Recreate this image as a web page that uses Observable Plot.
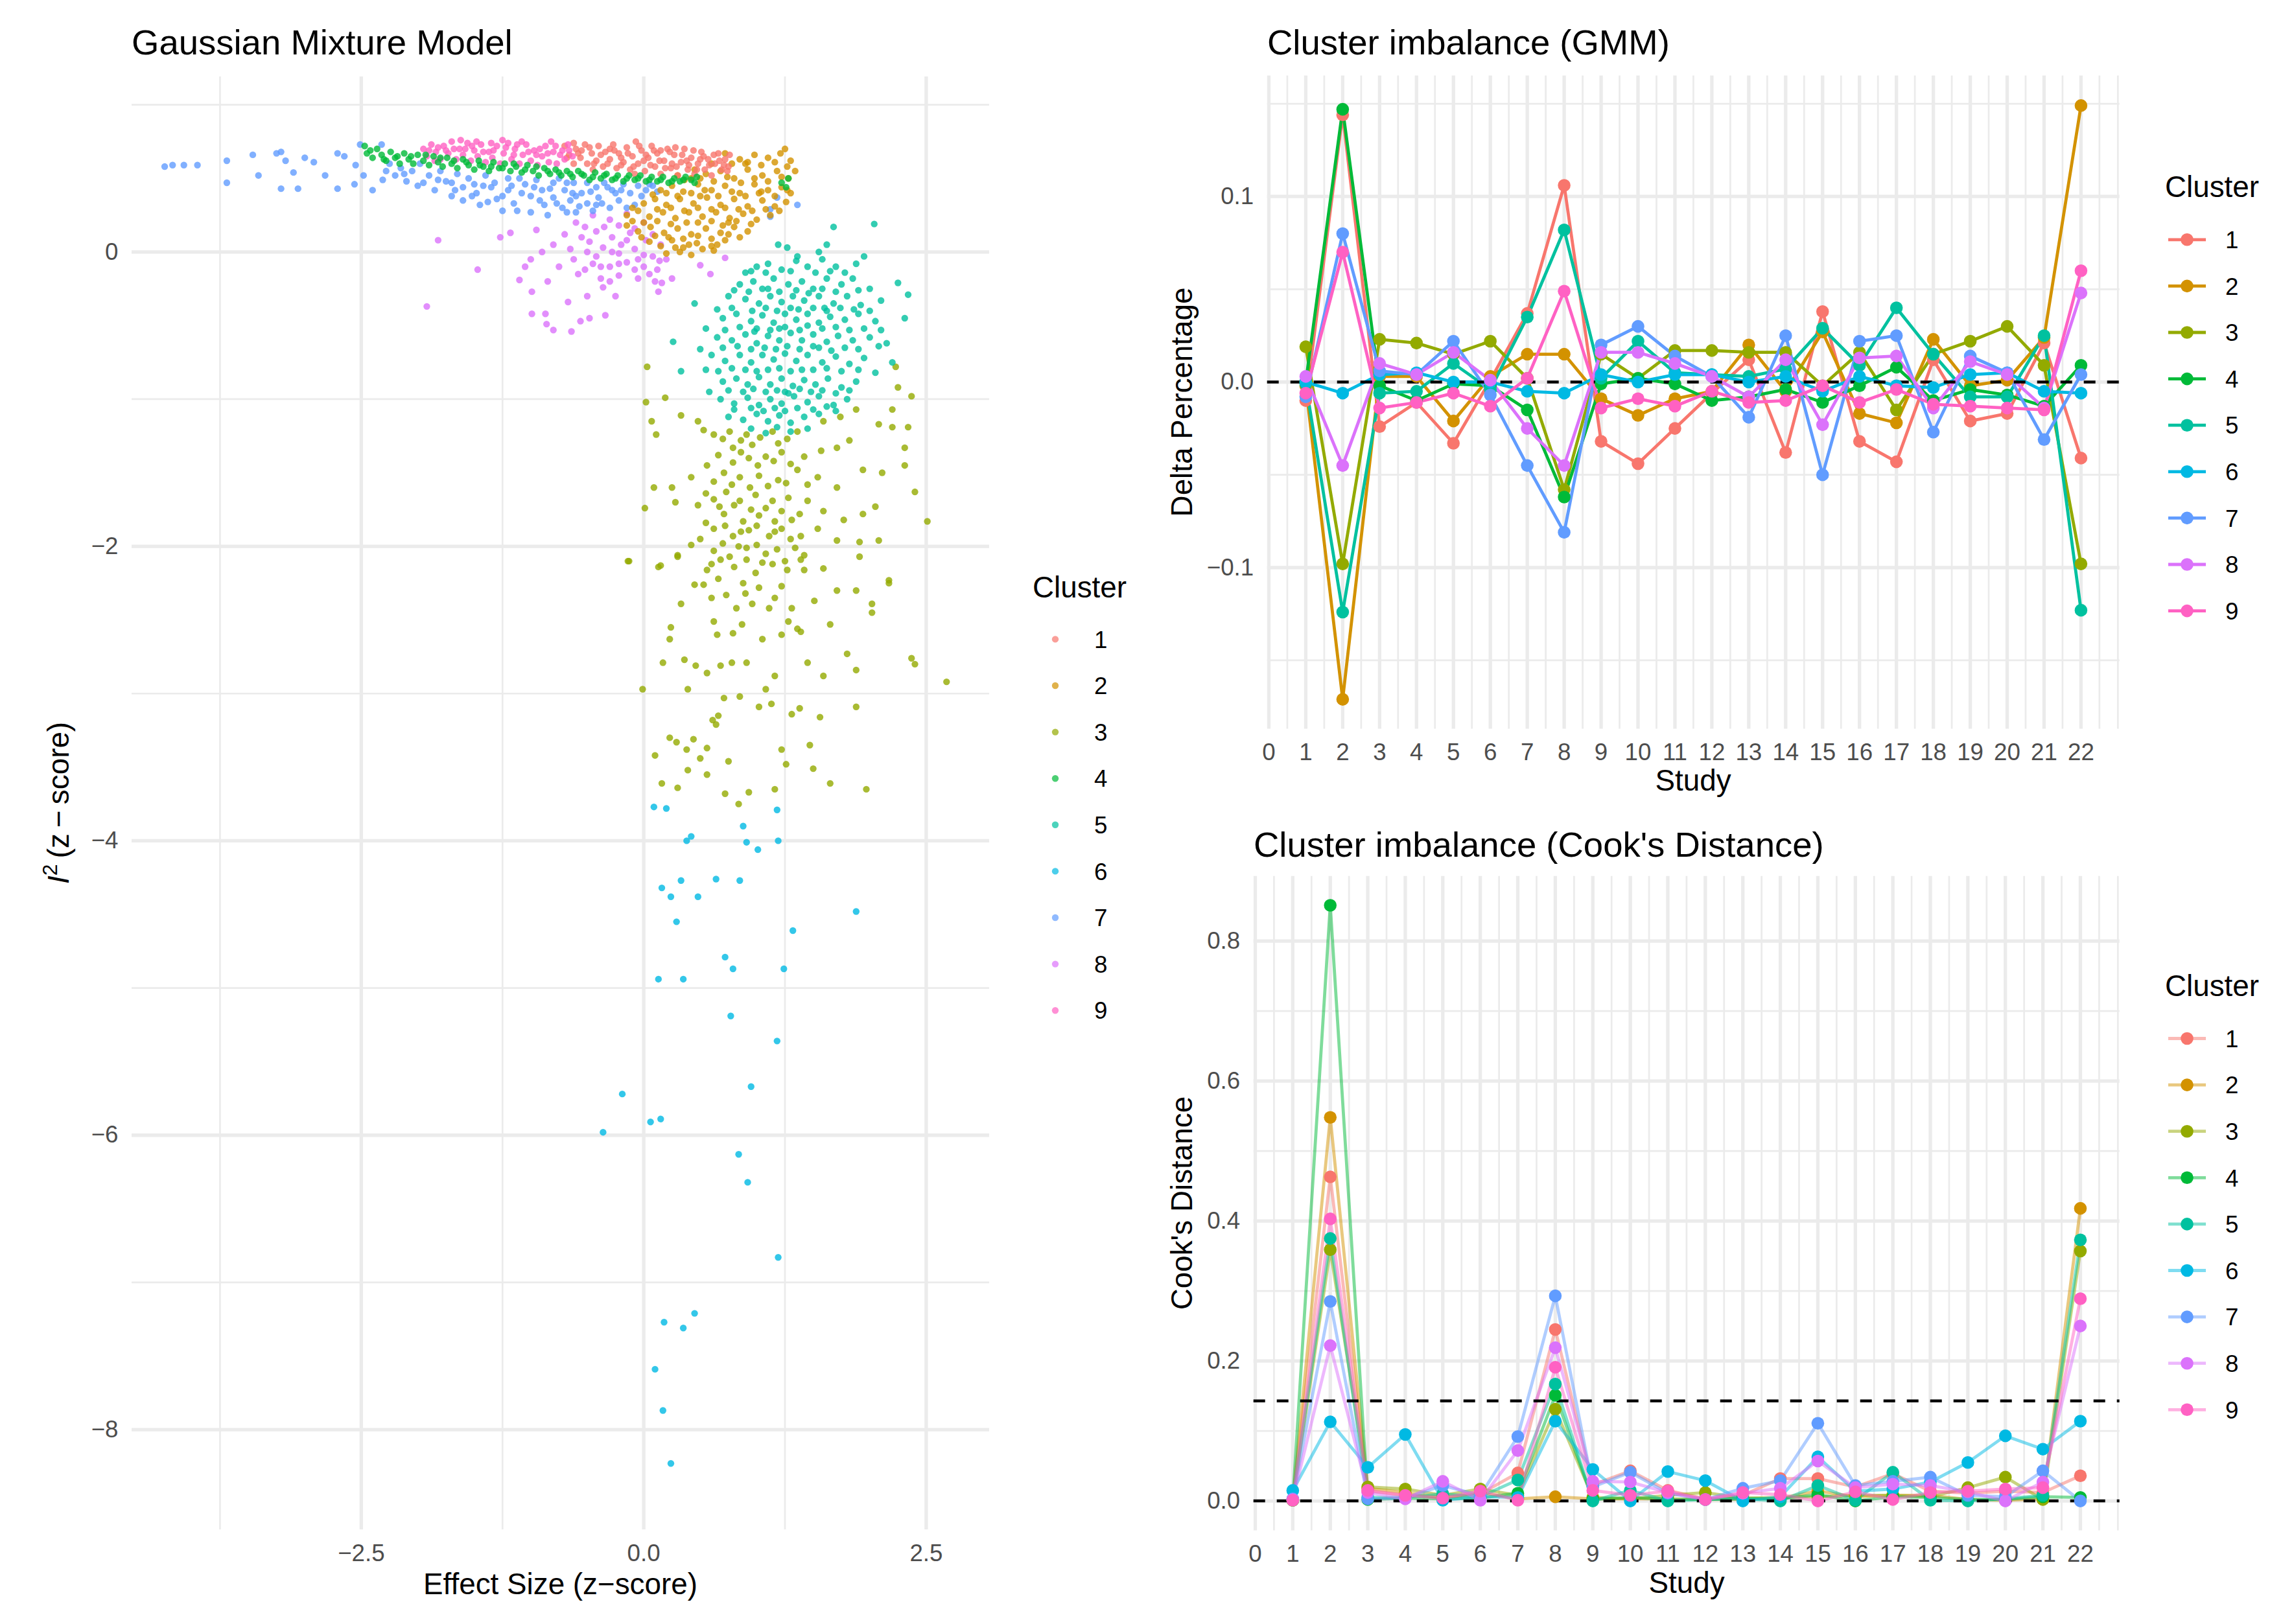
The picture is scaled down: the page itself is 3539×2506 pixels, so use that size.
<!DOCTYPE html>
<html lang="en">
<head>
<meta charset="UTF-8">
<title>GMM clusters and cluster imbalance</title>
<script src="https://d3js.org/d3.v7.min.js"></script>
<script src="https://cdn.jsdelivr.net/npm/@observablehq/plot@0.6"></script>
<style>
  body { margin: 0; background: #fff; }
  #page { position: relative; width: 3539px; height: 2506px; font-family: "Liberation Sans", Arial, sans-serif; }
  #page > svg { position: absolute; }
</style>
</head>
<body>
<div id="page"></div>
<script>
// ---- shared ----
const clusters = ["1", "2", "3", "4", "5", "6", "7", "8", "9"];
const clusterColors = ["#F8766D", "#D39200", "#93AA00", "#00BA38", "#00C19F", "#00B9E3", "#619CFF", "#DB72FB", "#FF61C3"];
const studies = [1, 2, 3, 4, 5, 6, 7, 8, 9, 10, 11, 12, 13, 14, 15, 16, 17, 18, 19, 20, 21, 22];
const studyTicks = [0, 1, 2, 3, 4, 5, 6, 7, 8, 9, 10, 11, 12, 13, 14, 15, 16, 17, 18, 19, 20, 21, 22];
const studyMinor = [0.5, 1.5, 2.5, 3.5, 4.5, 5.5, 6.5, 7.5, 8.5, 9.5, 10.5, 11.5, 12.5, 13.5, 14.5, 15.5, 16.5, 17.5, 18.5, 19.5, 20.5, 21.5, 22.5, 23];

// ---- left panel: effect size vs I^2 (z-scores) ----
const esTicks = [-2.5, 0, 2.5];
const esMinor = [-3.75, -1.25, 1.25];
const i2Ticks = [-8, -6, -4, -2, 0];
const i2Minor = [-7, -5, -3, -1, 1];

const pts1 = [[-0.7,0.72],[-0.66,0.66],[-0.62,0.6],[-0.6,0.7],[-0.56,0.64],[-0.52,0.73],[-0.5,0.6],[-0.46,0.67],[-0.42,0.62],[-0.4,0.72],[-0.36,0.58],[-0.34,0.68],[-0.3,0.63],[-0.27,0.73],[-0.24,0.57],[-0.22,0.67],[-0.18,0.61],[-0.15,0.71],[-0.12,0.56],[-0.1,0.65],[-0.07,0.75],[-0.05,0.6],[-0.02,0.69],[0.01,0.55],[0.04,0.64],[0.07,0.72],[0.1,0.58],[0.12,0.67],[0.15,0.53],[0.18,0.62],[0.21,0.7],[0.24,0.57],[0.27,0.66],[0.3,0.52],[0.33,0.61],[0.36,0.7],[0.39,0.56],[0.42,0.64],[0.45,0.53],[0.48,0.6],[0.51,0.68],[0.54,0.56],[0.57,0.63],[0.6,0.52],[0.63,0.6],[0.66,0.67],[0.69,0.56],[0.72,0.63],[0.75,0.58],[0.76,0.66],[-0.55,0.69],[-0.3,0.7],[0,0.62],[0.25,0.6],[0.5,0.63],[-0.45,0.56],[-0.2,0.64],[0.15,0.69],[0.4,0.59],[-0.08,0.53],
  [-0.68,0.64],[-0.58,0.67],[-0.48,0.71],[-0.44,0.6],[-0.38,0.66],[-0.32,0.6],[-0.26,0.69],[-0.2,0.59],[-0.14,0.67],[-0.09,0.58],[-0.04,0.72],[0.02,0.66],[0.06,0.59],[0.09,0.69],[0.14,0.62],[0.19,0.57],[0.23,0.68],[0.29,0.58],[0.34,0.66],[0.38,0.62],[0.44,0.69],[0.47,0.56],[0.53,0.65],[0.58,0.59],[0.62,0.66],[0.67,0.62],[0.71,0.59],[0.74,0.55],[-0.62,0.74],[0.28,0.71]];
const pts2 = [[0.72,0.67],[0.85,0.63],[0.98,0.66],[1.1,0.64],[1.21,0.67],[1.3,0.62],[0.6,0.6],[0.45,0.56],[0.3,0.52],[0.42,0.5],[0.55,0.53],[0.68,0.55],[0.8,0.5],[0.92,0.56],[1.05,0.52],[1.18,0.55],[1.28,0.5],[1.34,0.55],[0.15,0.42],[0.25,0.45],[0.35,0.41],[0.48,0.46],[0.6,0.42],[0.72,0.45],[0.85,0.4],[0.98,0.46],[1.1,0.42],[1.22,0.44],[1.3,0.4],[0,0.33],[0.1,0.36],[0.2,0.32],[0.32,0.36],[0.44,0.33],[0.56,0.37],[0.68,0.32],[0.8,0.36],[0.92,0.31],[1.05,0.35],[1.16,0.31],[1.26,0.34],[-0.15,0.25],[-0.05,0.28],[0.05,0.24],[0.17,0.27],[0.28,0.23],[0.4,0.27],[0.52,0.24],[0.64,0.27],[0.76,0.23],[0.88,0.26],[1,0.22],[1.12,0.25],[-0.15,0.18],[-0.05,0.14],[0.06,0.17],[0.18,0.13],[0.3,0.16],[0.42,0.12],[0.55,0.16],[0.68,0.13],[0.8,0.17],[0.92,0.14],[0.05,0.07],[0.15,0.04],[0.25,0.08],[0.35,0.03],[0.47,0.06],[0.6,0.04],[0.72,0.08],[0.2,-0.01],[0.32,0],[0.42,-0.02],[0.62,0.01],[1.25,0.7],[0.9,0.6],[0.38,0.2],[0.75,0.2],[1.02,0.4],[0.5,0.38],
  [0.78,0.6],[0.92,0.61],[1.04,0.59],[1.16,0.61],[1.27,0.58],[0.36,0.49],[0.5,0.5],[0.62,0.48],[0.74,0.51],[0.86,0.47],[0.98,0.5],[1.1,0.48],[1.22,0.51],[0.08,0.39],[0.2,0.4],[0.3,0.38],[0.42,0.4],[0.54,0.42],[0.66,0.38],[0.78,0.41],[0.9,0.38],[1.04,0.41],[1.16,0.38],[1.27,0.42],[-0.1,0.3],[0.12,0.29],[0.24,0.3],[0.36,0.28],[0.48,0.3],[0.6,0.29],[0.72,0.3],[0.84,0.29],[0.96,0.28],[1.08,0.29],[1.2,0.28],[-0.1,0.21],[0,0.2],[0.12,0.21],[0.24,0.19],[0.48,0.2],[0.6,0.21],[0.7,0.18],[0.82,0.21],[0.95,0.19],[-0.02,0.1],[0.1,0.11],[0.22,0.1],[0.35,0.09],[0.48,0.11],[0.6,0.09],[0.75,0.12],[0.85,0.1],[0.28,0.03],[0.4,0.05],[0.52,0.02],[0.65,0.05]];
const pts3 = [[0.03,-0.78],[0.02,-1.02],[0.19,-0.99],[0.07,-1.15],[0.11,-1.24],[0.33,-1.11],[0.48,-1.15],[0.53,-1.21],[0.62,-1.24],[0.76,-1.22],[0.91,-1.24],[1.14,-1.22],[1.36,-1.22],[1.59,-1.15],[1.74,-1.12],[1.88,-1.07],[2.2,-1.07],[2.25,-0.92],[2.23,-0.78],[2.37,-0.98],[2.08,-1.17],[2.2,-1.19],[2.34,-1.19],[0.79,-1.33],[0.96,-1.31],[1.19,-1.3],[0.79,-1.43],[0.93,-1.4],[1.08,-1.39],[1.22,-1.36],[1.42,-1.39],[1.57,-1.35],[1.71,-1.33],[1.82,-1.28],[2.31,-1.33],[0.56,-1.45],[0.71,-1.5],[0.85,-1.53],[1.02,-1.52],[1.19,-1.55],[1.36,-1.48],[1.54,-1.53],[1.71,-1.6],[1.94,-1.48],[2.11,-1.5],[2.31,-1.45],[2.4,-1.63],[0.42,-1.53],[0.25,-1.6],[0.09,-1.6],[0.01,-1.74],[0.28,-1.7],[0.48,-1.72],[0.62,-1.68],[0.73,-1.63],[0.85,-1.69],[0.99,-1.65],[1.14,-1.69],[1.28,-1.67],[1.45,-1.69],[1.59,-1.76],[1.77,-1.82],[1.94,-1.78],[2.05,-1.73],[2.51,-1.83],[0.71,-1.78],[0.88,-1.83],[1.02,-1.79],[1.16,-1.83],[1.31,-1.82],[0.62,-1.88],[0.79,-1.93],[0.93,-1.89],[1.11,-1.93],[1.22,-1.88],[1.39,-1.93],[1.54,-1.88],[1.71,-1.96],[1.91,-1.97],[2.08,-1.96],[0.42,-1.99],[0.62,-2.03],[0.76,-2.07],[0.91,-2.01],[1.08,-2.05],[1.25,-2.1],[1.42,-2.06],[1.59,-2.15],[0.3,-2.06],[0.15,-2.13],[-0.13,-2.1],[0.56,-2.16],[0.99,-2.18],[2.17,-2.23],[0.68,-2.09],[0.91,-2.09],[1.14,-2.12],[1.39,-2.09],[1.91,-2.07],[0.45,-2.26],[0.33,-2.39],[0.53,-2.26],[0.73,-2.33],[0.82,-2.42],[0.96,-2.39],[1.11,-2.42],[1.31,-2.42],[1.51,-2.37],[1.71,-2.3],[1.88,-2.3],[2.02,-2.39],[2.02,-2.45],[1.16,-2.35],[1.42,-2.16],[1.65,-2.53],[1.8,-2.73],[1.88,-2.84],[1.59,-2.88],[1.45,-2.79],[1.22,-2.6],[1.39,-2.58],[1.28,-2.51],[1.05,-2.63],[0.87,-2.53],[0.62,-2.51],[0.79,-2.59],[0.65,-2.6],[0.24,-2.55],[0.23,-2.63],[0.36,-2.77],[0.17,-2.79],[0.46,-2.81],[0.56,-2.86],[0.68,-2.81],[0.78,-2.79],[0.91,-2.79],[1.16,-2.88],[1.08,-2.97],[1.02,-3.09],[1.13,-3.07],[0.85,-3.02],[0.71,-3.03],[0.66,-3.15],[0.39,-2.97],[0.61,-3.18],[0.64,-3.21],[1.31,-3.14],[1.38,-3.1],[1.56,-3.16],[1.88,-3.09],[0.23,-3.3],[0.44,-3.31],[0.29,-3.33],[0.38,-3.38],[0.56,-3.37],[0.75,-3.46],[0.5,-3.44],[0.39,-3.52],[0.56,-3.55],[0.72,-3.68],[0.3,-3.64],[0.84,-3.75],[0.93,-3.67],[1.16,-3.65],[1.22,-3.38],[1.26,-3.48],[1.47,-3.35],[1.5,-3.51],[1.65,-3.61],[1.97,-3.65],[0.16,-3.61],[0.1,-3.42],[-0.01,-2.97],[2.37,-2.76],[2.4,-2.8],[2.68,-2.92],[1.36,-2.56],[-0.14,-2.1],[0.13,-2.14],[0.3,-2.07],[2.17,-2.25],
  [0.7,-1.27],[0.86,-1.28],[1.03,-1.26],[1.27,-1.27],[0.66,-1.38],[0.86,-1.36],[1.01,-1.45],[1.15,-1.42],[1.3,-1.44],[0.62,-1.56],[0.78,-1.58],[0.94,-1.6],[1.1,-1.59],[1.26,-1.57],[1.45,-1.58],[0.55,-1.64],[0.67,-1.73],[0.8,-1.72],[0.95,-1.75],[1.08,-1.74],[1.22,-1.76],[1.38,-1.78],[0.55,-1.84],[0.72,-1.86],[0.86,-1.9],[1.0,-1.86],[1.16,-1.9],[1.3,-1.95],[0.5,-1.95],[0.7,-1.98],[0.84,-2.0],[1.0,-1.99],[1.18,-2.02],[1.34,-2.01],[0.6,-2.12],[0.8,-2.14],[1.05,-2.11],[1.27,-2.16],[0.66,-2.22],[0.88,-2.25],[1.02,-2.28],[1.22,-2.27],[0.6,-2.35],[0.9,-2.32]];
const pts4 = [[-2.47,0.72],[-2.45,0.67],[-2.4,0.64],[-2.36,0.7],[-2.32,0.66],[-2.28,0.62],[-2.24,0.68],[-2.2,0.64],[-2.16,0.6],[-2.12,0.67],[-2.08,0.63],[-2.04,0.6],[-2,0.66],[-1.95,0.62],[-1.9,0.59],[-1.86,0.65],[-1.82,0.61],[-1.78,0.58],[-1.74,0.64],[-1.7,0.6],[-1.65,0.57],[-1.6,0.63],[-1.55,0.59],[-1.5,0.56],[-1.46,0.62],[-1.42,0.58],[-1.37,0.55],[-1.33,0.61],[-1.28,0.57],[-1.23,0.6],[-1.18,0.55],[-1.13,0.58],[-1.08,0.54],[-1.03,0.59],[-0.98,0.55],[-0.93,0.52],[-0.88,0.57],[-0.83,0.53],[-0.78,0.56],[-0.73,0.52],[-0.68,0.55],[-0.63,0.51],[-0.58,0.55],[-0.53,0.52],[-0.48,0.49],[-0.43,0.54],[-0.38,0.5],[-0.33,0.53],[-0.28,0.49],[-0.23,0.52],[-0.18,0.48],[-0.13,0.52],[-0.08,0.49],[-0.03,0.52],[0.02,0.48],[0.07,0.51],[0.12,0.48],[0.17,0.51],[0.22,0.47],[0.27,0.5],[0.32,0.48],[0.37,0.51],[0.42,0.49],[0.47,0.51],[1.22,0.47],[1.28,0.5],[1.26,0.44],
  [-2.42,0.69],[-2.3,0.63],[-2.18,0.65],[-2.06,0.65],[-1.93,0.66],[-1.8,0.64],[-1.68,0.62],[-1.57,0.61],[-1.45,0.59],[-1.35,0.58],[-1.25,0.57],[-1.15,0.6],[-1.05,0.56],[-0.95,0.58],[-0.85,0.55],[-0.75,0.54],[-0.65,0.53],[-0.55,0.53],[-0.45,0.51],[-0.35,0.52],[-0.25,0.5],[-0.15,0.5],[-0.05,0.5],[0.05,0.49],[0.15,0.49],[0.25,0.48],[0.35,0.49],[0.45,0.47]];
const pts5 = [[1.68,0.17],[2.04,0.19],[1.19,0.05],[1.27,0.03],[1.55,0],[1.36,-0.03],[1.62,0.05],[1,-0.1],[1.1,-0.08],[1.22,-0.12],[1.35,-0.06],[1.45,-0.1],[1.58,-0.05],[1.7,-0.1],[1.88,-0.08],[1.95,-0.03],[0.9,-0.14],[0.85,-0.22],[0.97,-0.2],[1.05,-0.25],[1.15,-0.18],[1.28,-0.22],[1.4,-0.2],[1.5,-0.25],[1.62,-0.18],[1.75,-0.22],[1.85,-0.18],[2.25,-0.21],[2,-0.25],[0.45,-0.35],[0.75,-0.3],[0.9,-0.32],[1.02,-0.35],[1.12,-0.3],[1.22,-0.34],[1.32,-0.3],[1.42,-0.33],[1.55,-0.3],[1.68,-0.35],[1.8,-0.3],[1.92,-0.36],[2.34,-0.29],[2.1,-0.33],[0.7,-0.45],[0.82,-0.42],[0.95,-0.47],[1.05,-0.43],[1.15,-0.48],[1.25,-0.42],[1.35,-0.46],[1.45,-0.42],[1.55,-0.48],[1.65,-0.44],[1.78,-0.46],[1.9,-0.42],[2.05,-0.47],[2.31,-0.45],[0.26,-0.61],[0.65,-0.58],[0.78,-0.6],[0.9,-0.56],[1,-0.62],[1.1,-0.57],[1.2,-0.6],[1.3,-0.55],[1.4,-0.6],[1.5,-0.56],[1.62,-0.61],[1.72,-0.57],[1.85,-0.6],[2,-0.58],[2.15,-0.62],[0.33,-0.81],[0.6,-0.7],[0.72,-0.74],[0.85,-0.7],[0.95,-0.75],[1.05,-0.7],[1.15,-0.73],[1.25,-0.69],[1.35,-0.74],[1.45,-0.7],[1.58,-0.75],[1.7,-0.71],[1.82,-0.76],[1.95,-0.72],[2.2,-0.75],[0.58,-0.95],[0.7,-0.88],[0.82,-0.86],[0.92,-0.9],[1.02,-0.85],[1.12,-0.9],[1.22,-0.86],[1.32,-0.91],[1.42,-0.87],[1.52,-0.9],[1.63,-0.86],[1.75,-0.92],[1.88,-0.88],[0.68,-1],[0.8,-1.03],[0.92,-0.99],[1.02,-1.04],[1.12,-1],[1.22,-1.03],[1.33,-0.98],[1.45,-1.02],[1.55,-0.98],[1.68,-1.04],[1.8,-1],[0.75,-1.12],[0.88,-1.14],[1,-1.1],[1.1,-1.15],[1.2,-1.11],[1.3,-1.16],[1.42,-1.12],[1.55,-1.1],[1.7,-1.08],[0.95,-1.2],[1.08,-1.23],[1.3,-1.22],[1.18,-1.19],[1.45,-1.2],[1.3,-0.38],[1.2,-0.52],[1.4,-0.8],[1.1,-0.8],[1.5,-0.64],[1.25,-0.95],[1.6,-0.38],[0.98,-0.54],
  [0.95,-0.13],[1.08,-0.14],[1.3,-0.13],[1.52,-0.14],[1.65,-0.13],[1.78,-0.14],[0.8,-0.26],[0.93,-0.27],[1.1,-0.25],[1.2,-0.27],[1.35,-0.26],[1.46,-0.28],[1.58,-0.25],[1.7,-0.27],[1.9,-0.26],[0.65,-0.39],[0.78,-0.38],[0.96,-0.4],[1.08,-0.38],[1.18,-0.4],[1.37,-0.39],[1.5,-0.38],[1.62,-0.4],[1.74,-0.38],[1.86,-0.39],[2,-0.4],[0.55,-0.52],[0.72,-0.53],[0.85,-0.51],[1.0,-0.52],[1.12,-0.53],[1.25,-0.51],[1.38,-0.53],[1.45,-0.5],[1.58,-0.52],[1.7,-0.51],[1.82,-0.53],[1.95,-0.52],[2.1,-0.53],[0.5,-0.66],[0.7,-0.65],[0.83,-0.64],[0.95,-0.66],[1.07,-0.65],[1.17,-0.66],[1.27,-0.64],[1.38,-0.66],[1.55,-0.65],[1.66,-0.67],[1.78,-0.65],[1.9,-0.66],[2.08,-0.64],[0.55,-0.8],[0.66,-0.81],[0.78,-0.79],[0.9,-0.8],[1.0,-0.81],[1.2,-0.79],[1.3,-0.81],[1.5,-0.8],[1.62,-0.79],[1.75,-0.81],[1.9,-0.8],[2.05,-0.82],[0.75,-0.94],[0.88,-0.95],[0.97,-0.93],[1.08,-0.95],[1.18,-0.94],[1.28,-0.96],[1.38,-0.93],[1.48,-0.95],[1.58,-0.94],[1.7,-0.96],[1.82,-0.94],[0.8,-1.07],[0.95,-1.06],[1.06,-1.08],[1.16,-1.06],[1.25,-1.08],[1.36,-1.06],[1.5,-1.07],[1.62,-1.05]];
const pts6 = [[0.09,-3.77],[0.2,-3.78],[1.18,-3.79],[0.88,-3.9],[0.38,-4],[0.42,-3.97],[0.91,-4.01],[1.01,-4.06],[1.19,-4],[0.64,-4.26],[0.85,-4.27],[0.33,-4.27],[0.16,-4.32],[0.24,-4.38],[0.48,-4.38],[1.88,-4.48],[0.29,-4.55],[1.32,-4.61],[0.72,-4.79],[0.79,-4.87],[1.24,-4.87],[0.13,-4.94],[0.35,-4.94],[0.77,-5.19],[1.18,-5.36],[0.95,-5.67],[-0.19,-5.72],[0.15,-5.89],[0.06,-5.91],[-0.36,-5.98],[0.84,-6.13],[0.92,-6.32],[1.19,-6.83],[0.45,-7.21],[0.18,-7.27],[0.35,-7.31],[0.1,-7.59],[0.17,-7.87],[0.24,-8.23]];
const pts7 = [[-4.24,0.58],[-4.17,0.59],[-4.07,0.59],[-3.95,0.59],[-3.69,0.62],[-3.69,0.47],[-3.46,0.66],[-3.41,0.52],[-3.25,0.67],[-3.21,0.68],[-3.21,0.43],[-3.17,0.62],[-3.1,0.54],[-3.06,0.43],[-3,0.64],[-2.92,0.61],[-2.82,0.52],[-2.71,0.67],[-2.71,0.43],[-2.65,0.65],[-2.56,0.46],[-2.55,0.59],[-2.51,0.73],[-2.48,0.52],[-2.4,0.42],[-2.32,0.73],[-2.31,0.49],[-2.25,0.6],[-2.2,0.52],[-2.15,0.57],[-2.1,0.48],[-2.05,0.55],[-2,0.45],[-1.98,0.6],[-1.9,0.52],[-1.85,0.42],[-1.8,0.55],[-1.75,0.48],[-1.7,0.38],[-1.65,0.53],[-1.6,0.44],[-1.6,0.35],[-1.55,0.5],[-1.5,0.46],[-1.48,0.4],[-1.45,0.32],[-1.4,0.52],[-1.35,0.44],[-1.3,0.36],[-1.25,0.28],[-1.2,0.5],[-1.2,0.42],[-1.15,0.33],[-1.1,0.5],[-1.05,0.46],[-1,0.38],[-1,0.27],[-0.95,0.49],[-0.9,0.42],[-0.88,0.32],[-0.85,0.25],[-0.8,0.47],[-0.8,0.37],[-0.75,0.5],[-0.72,0.3],[-0.7,0.42],[-0.65,0.35],[-0.62,0.47],[-0.6,0.27],[-0.55,0.4],[-0.5,0.47],[-0.5,0.33],[-0.45,0.28],[-0.42,0.44],[-0.4,0.37],[-0.35,0.47],[-0.3,0.3],[-0.28,0.42],[-0.22,0.35],[-0.18,0.46],[-0.12,0.4],[-0.08,0.32],[-0.05,0.45],[0.02,0.42],[0.08,0.45],[0.12,0.41],[-1.7,0.47],[-1.25,0.38],[-0.6,0.38],[-0.25,0.4],[1.18,0.37],[1.36,0.32],[1.12,0.24],[1.12,0.29],
  [-2.28,0.55],[-2.12,0.53],[-1.95,0.47],[-1.82,0.49],[-1.67,0.42],[-1.52,0.38],[-1.42,0.45],[-1.32,0.47],[-1.17,0.45],[-1.08,0.4],[-0.97,0.44],[-0.92,0.35],[-0.83,0.43],[-0.77,0.33],[-0.68,0.47],[-0.63,0.4],[-0.57,0.31],[-0.47,0.41],[-0.37,0.33],[-0.32,0.44],[-0.2,0.42],[-0.15,0.3],[-0.02,0.38],[0.05,0.46],[-1.38,0.34],[-1.12,0.28],[-0.68,0.27],[-0.42,0.32]];
const pts8 = [[-0.6,0.2],[-0.45,0.25],[-0.3,0.22],[-0.15,0.26],[0,0.2],[-0.55,0.1],[-0.42,0.14],[-0.28,0.1],[-0.12,0.13],[0.02,0.08],[0.15,0.05],[-0.5,0],[-0.36,0.03],[-0.22,-0.01],[-0.08,0.02],[0.08,-0.03],[0.2,-0.05],[-0.45,-0.08],[-0.3,-0.1],[-0.15,-0.07],[0,-0.1],[0.12,-0.12],[-0.38,-0.18],[-0.22,-0.16],[-0.05,-0.18],[0.1,-0.2],[-0.62,-0.05],[-0.7,0.12],[-0.8,0.05],[-0.75,-0.1],[-0.58,-0.15],[-1.82,0.08],[-1.92,-0.37],[-1.47,-0.12],[-1.27,0.1],[-1.18,0.13],[-1.1,-0.19],[-0.99,-0.27],[-0.99,-0.42],[-0.87,-0.42],[-0.86,-0.49],[-0.8,-0.53],[-0.64,-0.54],[-0.56,-0.47],[-0.48,-0.45],[-0.34,-0.43],[-0.36,-0.24],[-0.67,-0.34],[0.13,-0.27],[0.16,-0.21],[0.25,-0.18],[0.5,-0.09],[0.59,-0.15],[0.72,-0.04],[-1,-0.05],[-0.9,0],[-0.95,0.15],[-1.05,-0.1],[-0.85,-0.2],[-0.5,-0.3],[-0.25,-0.3],[-0.35,0.17],[-0.2,0.05],[-0.65,0.02],[-0.05,-0.05],
  [-0.52,0.17],[-0.22,0.18],[-0.08,0.16],[-0.48,0.07],[-0.15,0.08],[0.08,0.12],[-0.42,-0.03],[-0.28,0.0],[0.0,-0.02],[0.14,-0.06],[-0.52,-0.12],[-0.38,-0.1],[-0.22,-0.08],[-0.08,-0.12],[0.05,-0.15],[-0.3,-0.2]];
const pts9 = [[-1.95,0.7],[-1.92,0.65],[-1.88,0.73],[-1.84,0.68],[-1.8,0.63],[-1.77,0.72],[-1.73,0.67],[-1.7,0.75],[-1.66,0.63],[-1.63,0.7],[-1.6,0.66],[-1.56,0.74],[-1.53,0.62],[-1.5,0.69],[-1.47,0.65],[-1.44,0.73],[-1.4,0.61],[-1.37,0.68],[-1.34,0.64],[-1.3,0.72],[-1.27,0.6],[-1.24,0.67],[-1.2,0.74],[-1.17,0.63],[-1.14,0.7],[-1.1,0.6],[-1.07,0.66],[-1.04,0.73],[-1,0.62],[-0.97,0.69],[-0.94,0.59],[-0.9,0.65],[-0.87,0.72],[-0.84,0.61],[-0.8,0.68],[-0.77,0.6],[-0.74,0.66],[-0.7,0.63],[-0.66,0.69],[-0.63,0.65],[-1.62,0.76],[-1.25,0.76],[-1.85,0.62],[-1.15,0.66],[-0.92,0.7],
  [-1.9,0.69],[-1.82,0.71],[-1.75,0.69],[-1.68,0.7],[-1.58,0.7],[-1.52,0.72],[-1.42,0.68],[-1.33,0.69],[-1.22,0.71],[-1.12,0.73],[-1.02,0.68],[-0.95,0.66],[-0.85,0.67],[-0.78,0.72],[-0.72,0.69],[-0.67,0.73],[-1.48,0.75],[-1.35,0.74],[-1.08,0.75],[-0.82,0.75]];

// ---- top right: GMM cluster delta percentage by study ----
const gmmTicks = [-0.1, 0, 0.1];
const gmmMinor = [-0.15, -0.05, 0.05, 0.15];
const gmm1 = [-0.010, 0.144, -0.024, -0.011, -0.033, 0.001, 0.037, 0.106, -0.032, -0.044, -0.025, -0.006, 0.012, -0.038, 0.038, -0.032, -0.043, 0.012, -0.021, -0.017, 0.021, -0.041];
const gmm2 = [-0.002, -0.171, 0.003, 0.003, -0.021, 0.003, 0.015, 0.015, -0.009, -0.018, -0.009, -0.005, 0.020, -0.005, 0.027, -0.017, -0.022, 0.023, -0.002, 0.001, 0.024, 0.149];
const gmm3 = [0.019, -0.098, 0.023, 0.021, 0.015, 0.022, 0.002, -0.058, 0.015, 0.002, 0.017, 0.017, 0.016, 0.016, -0.002, 0.016, -0.015, 0.015, 0.022, 0.030, 0.009, -0.098];
const gmm4 = [0.000, 0.147, -0.002, -0.010, -0.001, -0.002, -0.015, -0.062, -0.001, 0.002, -0.001, -0.010, -0.008, -0.004, -0.011, -0.002, 0.008, -0.010, -0.004, -0.007, -0.013, 0.009];
const gmm5 = [-0.001, -0.124, -0.006, -0.005, 0.010, -0.004, 0.035, 0.082, 0.002, 0.022, 0.005, 0.004, 0.003, 0.007, 0.029, 0.009, 0.040, 0.015, -0.008, -0.008, 0.025, -0.123];
const gmm6 = [0.000, -0.006, 0.004, 0.005, 0.000, 0.000, -0.005, -0.006, 0.004, 0.000, 0.004, 0.004, 0.000, 0.003, -0.005, 0.003, -0.002, -0.003, 0.004, 0.005, -0.005, -0.006];
const gmm7 = [-0.008, 0.080, 0.006, 0.004, 0.022, -0.007, -0.045, -0.081, 0.020, 0.030, 0.014, 0.003, -0.019, 0.025, -0.050, 0.022, 0.025, -0.027, 0.014, 0.005, -0.031, 0.004];
const gmm8 = [0.003, -0.045, 0.010, 0.004, 0.016, 0.001, -0.025, -0.045, 0.016, 0.016, 0.010, 0.003, -0.008, 0.012, -0.023, 0.013, 0.014, -0.014, 0.011, 0.004, -0.014, 0.048];
const gmm9 = [-0.006, 0.070, -0.014, -0.011, -0.006, -0.013, 0.002, 0.049, -0.014, -0.009, -0.013, -0.005, -0.011, -0.010, -0.002, -0.011, -0.004, -0.012, -0.013, -0.014, -0.015, 0.060];

// ---- bottom right: Cook's distance by study ----
const cookTicks = [0, 0.2, 0.4, 0.6, 0.8];
const cookMinor = [0.1, 0.3, 0.5, 0.7];
const cookCutoff = 0.143;
const cook1 = [0.002, 0.463, 0.014, 0.008, 0.005, 0.010, 0.040, 0.245, 0.023, 0.043, 0.015, 0.003, 0.008, 0.032, 0.032, 0.020, 0.039, 0.014, 0.011, 0.014, 0.012, 0.036];
const cook2 = [0.001, 0.548, 0.018, 0.012, 0.004, 0.012, 0.003, 0.006, 0.003, 0.003, 0.003, 0.002, 0.002, 0.004, 0.014, 0.006, 0.008, 0.008, 0.002, 0.001, 0.003, 0.418];
const cook3 = [0.001, 0.359, 0.020, 0.017, 0.008, 0.017, 0.008, 0.131, 0.005, 0.003, 0.008, 0.012, 0.004, 0.005, 0.006, 0.008, 0.008, 0.006, 0.019, 0.034, 0.002, 0.357];
const cook4 = [0.001, 0.851, 0.002, 0.004, 0.003, 0.004, 0.011, 0.151, 0.002, 0.005, 0.002, 0.002, 0.004, 0.003, 0.009, 0.000, 0.006, 0.005, 0.002, 0.002, 0.006, 0.005];
const cook5 = [0.002, 0.375, 0.005, 0.005, 0.010, 0.006, 0.030, 0.167, 0.000, 0.015, 0.000, 0.002, 0.003, 0.000, 0.022, 0.001, 0.041, 0.001, 0.000, 0.003, 0.008, 0.373];
const cook6 = [0.015, 0.113, 0.048, 0.095, 0.001, 0.006, 0.005, 0.114, 0.045, 0.000, 0.042, 0.029, 0.000, 0.006, 0.063, 0.014, 0.017, 0.027, 0.055, 0.093, 0.074, 0.114];
const cook7 = [0.003, 0.285, 0.003, 0.004, 0.022, 0.008, 0.092, 0.293, 0.020, 0.041, 0.011, 0.002, 0.018, 0.029, 0.111, 0.022, 0.028, 0.034, 0.008, 0.006, 0.043, 0.000];
const cook8 = [0.002, 0.222, 0.012, 0.003, 0.028, 0.001, 0.072, 0.219, 0.028, 0.027, 0.012, 0.002, 0.011, 0.018, 0.057, 0.019, 0.024, 0.022, 0.013, 0.000, 0.027, 0.250];
const cook9 = [0.001, 0.403, 0.015, 0.008, 0.004, 0.014, 0.001, 0.191, 0.015, 0.008, 0.014, 0.002, 0.012, 0.009, 0.000, 0.013, 0.002, 0.012, 0.014, 0.017, 0.019, 0.289];

// ---- build tidy rows ----
const scatter = [];
// draw order roughly as the points stack in the picture
[[3, pts3], [5, pts5], [6, pts6], [8, pts8], [7, pts7], [2, pts2], [1, pts1], [9, pts9], [4, pts4]]
  .forEach(([k, arr]) => arr.forEach(([x, y]) => scatter.push({x, y, cluster: String(k)})));

function longRows(series) {
  const rows = [];
  series.forEach((arr, i) => arr.forEach((v, j) => rows.push({study: studies[j], value: v, cluster: clusters[i]})));
  return rows;
}
const gmmRows = longRows([gmm1, gmm2, gmm3, gmm4, gmm5, gmm6, gmm7, gmm8, gmm9]);
const cookRows = longRows([cook1, cook2, cook3, cook4, cook5, cook6, cook7, cook8, cook9]);

const FONT = "Liberation Sans, Arial, sans-serif";
const TICK = 36.7, AXT = 45.8, TITLE = 54.5;
const grid = "#EBEBEB", gridMajor = 5.3, gridMinor = 2.7;
const LINE_W = 4.8, DOT_R = 9.8;
const minus = s => s.replace("-", "\u2212");
const color = {domain: clusters, range: clusterColors};

function gridMarks(xMajor, xMinor, yMajor, yMinor) {
  return [
    Plot.ruleX(xMinor, {stroke: grid, strokeWidth: gridMinor}),
    Plot.ruleY(yMinor, {stroke: grid, strokeWidth: gridMinor}),
    Plot.ruleX(xMajor, {stroke: grid, strokeWidth: gridMajor}),
    Plot.ruleY(yMajor, {stroke: grid, strokeWidth: gridMajor})
  ];
}
function axes(xt, xf, yt, yf) {
  return [
    Plot.axisX({ticks: xt, tickSize: 0, tickPadding: 22, fontSize: TICK, tickFormat: xf, label: null}),
    Plot.axisY({ticks: yt, tickSize: 0, tickPadding: 21, fontSize: TICK, tickFormat: yf, label: null})
  ];
}
const plotStyle = {fontFamily: FONT, color: "#4D4D4D", background: "transparent", overflow: "visible"};

// left scatter
const left = Plot.plot({
  width: 1560, height: 2506,
  marginLeft: 203, marginRight: 34, marginTop: 118, marginBottom: 146,
  style: plotStyle,
  x: {domain: [-4.53, 3.06], label: null},
  y: {domain: [-8.68, 1.19], label: null},
  color,
  marks: [
    ...gridMarks(esTicks, esMinor, i2Ticks, i2Minor),
    Plot.dot(scatter, {x: "x", y: "y", fill: "cluster", r: 5.2, fillOpacity: 0.8}),
    ...axes(esTicks, d => minus(d.toFixed(1)), i2Ticks, d => minus(String(d)))
  ]
});
left.style.left = "0px"; left.style.top = "0px";

// top right
const gmmPlot = Plot.plot({
  width: 1500, height: 1260,
  marginLeft: 174.7, marginRight: 10.3, marginTop: 116.6, marginBottom: 135.6,
  style: plotStyle,
  x: {domain: [-0.04, 23.05], label: null},
  y: {domain: [-0.187, 0.165], label: null},
  color,
  marks: [
    ...gridMarks(studyTicks, studyMinor, gmmTicks, gmmMinor),
    Plot.line(gmmRows, {x: "study", y: "value", stroke: "cluster", strokeWidth: LINE_W}),
    Plot.ruleY([0], {stroke: "#000", strokeWidth: 4.5, strokeDasharray: "18,18"}),
    Plot.dot(gmmRows, {x: "study", y: "value", fill: "cluster", r: DOT_R}),
    ...axes(studyTicks, d => String(d), gmmTicks, d => minus(d.toFixed(1)))
  ]
});
gmmPlot.style.left = "1780px"; gmmPlot.style.top = "0px";

// bottom right
const cookPlot = Plot.plot({
  width: 1500, height: 1246,
  marginLeft: 153.7, marginRight: 10.3, marginTop: 91.7, marginBottom: 144.5,
  style: plotStyle,
  x: {domain: [-0.04, 23.05], label: null},
  y: {domain: [-0.0425, 0.8925], label: null},
  color,
  marks: [
    ...gridMarks(studyTicks, studyMinor, cookTicks, cookMinor),
    Plot.line(cookRows, {x: "study", y: "value", stroke: "cluster", strokeWidth: LINE_W, strokeOpacity: 0.5}),
    Plot.ruleY([0, cookCutoff], {stroke: "#000", strokeWidth: 4.5, strokeDasharray: "18,18"}),
    Plot.dot(cookRows, {x: "study", y: "value", fill: "cluster", r: DOT_R}),
    ...axes(studyTicks, d => String(d), cookTicks, d => d.toFixed(1))
  ]
});
cookPlot.style.left = "1780px"; cookPlot.style.top = "1260px";

const page = document.getElementById("page");
page.append(left, gmmPlot, cookPlot);

// ---- titles, axis titles and legends ----
const svg = d3.select(page).append("svg")
  .attr("width", 3539).attr("height", 2506)
  .style("left", "0px").style("top", "0px")
  .style("font-family", FONT).style("pointer-events", "none");

function text(x, y, s, size, anchor = "start", rotate = false) {
  const t = svg.append("text").attr("font-size", size).attr("fill", "#000").attr("text-anchor", anchor);
  if (rotate) t.attr("transform", `translate(${x},${y}) rotate(-90)`);
  else t.attr("x", x).attr("y", y);
  t.text(s);
  return t;
}
text(203, 84, "Gaussian Mixture Model", TITLE);
text(1955, 84, "Cluster imbalance (GMM)", TITLE);
text(1934, 1322, "Cluster imbalance (Cook's Distance)", TITLE);

text(864.5, 2460, "Effect Size (z\u2212score)", AXT, "middle");
text(2612, 1220, "Study", AXT, "middle");
text(2602, 2458, "Study", AXT, "middle");
text(1839, 620.5, "Delta Percentage", AXT, "middle", true);
text(1839, 1856.6, "Cook's Distance", AXT, "middle", true);

const yLab = svg.append("text").attr("font-size", AXT).attr("text-anchor", "middle")
  .attr("transform", "translate(106,1239) rotate(-90)");
yLab.append("tspan").attr("font-style", "italic").text("I");
yLab.append("tspan").attr("font-size", AXT * 0.7).attr("dy", -18).text("2");
yLab.append("tspan").attr("dy", 18).text("\u2009(z\u2009\u2212\u2009score)");

function legend(x0, titleY, rowY, withLine, lineOpacity, dotR, dotOpacity, keyX, labelX) {
  text(x0, titleY, "Cluster", AXT);
  clusters.forEach((c, i) => {
    const y = rowY + i * 71.6;
    if (withLine) {
      svg.append("line").attr("x1", keyX - 29).attr("x2", keyX + 29).attr("y1", y).attr("y2", y)
        .attr("stroke", clusterColors[i]).attr("stroke-width", LINE_W).attr("stroke-opacity", lineOpacity);
    }
    svg.append("circle").attr("cx", keyX).attr("cy", y).attr("r", dotR)
      .attr("fill", clusterColors[i]).attr("fill-opacity", dotOpacity);
    svg.append("text").attr("x", labelX).attr("y", y).attr("dy", "0.36em")
      .attr("font-size", TICK).attr("fill", "#000").text(c);
  });
}
legend(1593, 922, 986.4, false, 0, 5.2, 0.7, 1628, 1688);
legend(3340, 304, 369.8, true, 1, DOT_R, 1, 3374, 3433);
legend(3340, 1536.5, 1602.5, true, 0.5, DOT_R, 1, 3374, 3433);
</script>
</body>
</html>
